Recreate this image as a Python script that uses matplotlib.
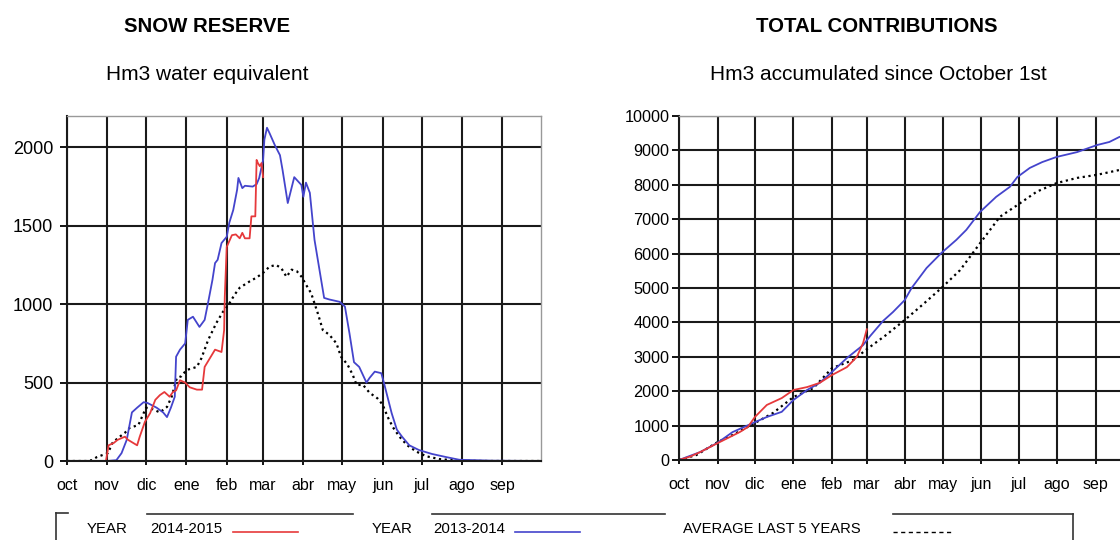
import matplotlib
matplotlib.use('Agg')
import matplotlib.pyplot as plt
from matplotlib.lines import Line2D

plt.rcParams['font.family'] = ['Liberation Sans', 'DejaVu Sans']

# month starts in days since October 1st
month_days = [0, 31, 61, 92, 123, 151, 182, 212, 243, 273, 304, 335]
month_labels = ['oct', 'nov', 'dic', 'ene', 'feb', 'mar', 'abr', 'may', 'jun', 'jul', 'ago', 'sep']

# snow reserve (Hm3 water equivalent)
snow_1415_day = [0, 30, 32, 36, 39, 44.6, 47, 51, 54, 56, 60, 64, 68, 71.5, 75, 79, 81.6, 84, 87, 91,
                 94.5, 100, 104, 106, 110, 114, 119, 121, 121.5, 123, 127, 130, 133, 135, 137, 140.6,
                 142, 145, 146, 147, 148.5, 149.8, 151]
snow_1415_val = [0, 0, 100, 115, 135, 155, 135, 115, 100, 155, 250, 305, 390, 420, 440, 410, 440, 450,
                 515, 500, 470, 455, 455, 600, 655, 710, 695, 835, 1047, 1365, 1440, 1445, 1420, 1455,
                 1420, 1420, 1560, 1560, 1920, 1900, 1880, 1900, 1810]

snow_1314_day = [0, 31, 38, 42, 46, 50, 54, 59, 62, 69, 74, 77, 80, 83, 84, 87, 91, 93, 97, 102, 106,
                 109, 112, 114, 116, 119, 123, 125, 128, 131, 132, 135, 137, 143, 146, 148, 151, 152,
                 154, 156, 160, 164, 166, 170, 175, 180.5, 182, 184, 187, 190.6, 194, 198, 202, 210,
                 214, 217.5, 221, 225, 230.6, 233, 237, 242, 244, 250, 254, 258, 263.6, 271, 281, 292,
                 302, 327, 365]
snow_1314_val = [0, 0, 5, 50, 135, 310, 340, 375, 370, 340, 310, 280, 340, 410, 665, 710, 750, 900, 920,
                 855, 900, 1025, 1155, 1262, 1283, 1390, 1430, 1520, 1600, 1730, 1805, 1740, 1755, 1750,
                 1765, 1805, 1920, 2050, 2125, 2090, 2015, 1950, 1855, 1645, 1810, 1760, 1685, 1775,
                 1710, 1410, 1240, 1040, 1030, 1015, 985, 815, 630, 600, 500, 530, 570, 560, 500, 305,
                 200, 155, 100, 70, 45, 25, 8, 2, 0]

snow_avg_day = [0, 15, 19, 23, 28, 31.5, 35, 39, 44.6, 48, 55, 59, 61, 66, 71.5, 77, 80.6, 84.6, 88, 92,
                100, 103.5, 108.6, 115, 120, 125, 129, 133, 140.6, 146, 151, 156, 161, 165, 169, 173,
                177, 180.6, 184, 188, 193, 197, 202, 207.5, 211, 216, 220, 223, 228, 233, 239, 243, 247,
                251, 256, 262, 269, 276.7, 287, 302, 320, 365]
snow_avg_val = [0, 0, 5, 25, 40, 50, 115, 145, 180, 210, 230, 305, 340, 330, 310, 345, 410, 530, 540, 580,
                600, 655, 770, 880, 950, 1005, 1060, 1105, 1145, 1170, 1200, 1240, 1250, 1230, 1175,
                1220, 1210, 1175, 1125, 1070, 945, 835, 805, 750, 665, 615, 550, 485, 485, 435, 400, 360,
                280, 215, 155, 100, 60, 30, 12, 2, 0, 0]

# total contributions (Hm3 accumulated since October 1st)
contrib_1415_day = [0, 9, 17, 31, 41, 49, 55.4, 61, 70.6, 82.6, 92, 103, 113, 123, 135, 143, 148, 151]
contrib_1415_val = [0, 100, 230, 490, 670, 815, 960, 1250, 1600, 1800, 2035, 2120, 2240, 2470, 2700,
                    3000, 3400, 3800]

contrib_1314_day = [0, 17, 31, 43, 61, 70.6, 82.6, 92, 103, 113, 123, 135, 148, 153.6, 164, 172, 181.5,
                    187, 199, 211, 223, 231, 242, 255, 266, 272, 282, 292, 303.6, 320, 336, 346, 354, 365]
contrib_1314_val = [0, 230, 500, 810, 1100, 1250, 1400, 1745, 2035, 2240, 2560, 2965, 3340, 3600, 4040,
                    4300, 4650, 5000, 5580, 6020, 6400, 6690, 7210, 7650, 7940, 8225, 8490, 8660, 8810,
                    8950, 9155, 9245, 9390, 9520]

contrib_avg_day = [0, 14, 31, 43, 61, 75.5, 92, 108, 123, 140, 151, 166, 181.5, 196, 211, 226, 242, 258,
                   272, 287.6, 303.6, 320, 336, 354, 365]
contrib_avg_val = [0, 145, 520, 725, 1075, 1365, 1830, 2090, 2670, 2905, 3220, 3620, 4070, 4520, 5000,
                   5520, 6300, 7070, 7410, 7800, 8050, 8200, 8290, 8430, 8500]

RED = '#e6393b'
BLUE = '#4444cc'
W, H = 1120, 540

fig = plt.figure(figsize=(W / 100, H / 100), dpi=100)


def fx(x):
    return x / W


def fy(y):
    return 1 - y / H


def style_axes(ax, ymax, ystep, ysize, ypad):
    ax.set_xlim(0, 365)
    ax.set_ylim(0, ymax)
    ax.set_xticks(month_days)
    ax.set_xticklabels(month_labels, fontsize=11.5)
    ax.set_yticks(range(0, ymax + 1, ystep) if ymax % ystep == 0 else range(0, ymax, ystep))
    ax.tick_params(axis='y', labelsize=ysize, length=5, width=1.3, pad=ypad)
    ax.tick_params(axis='x', length=3, width=1.3, pad=9)
    ax.grid(True, color='#1a1a1a', lw=1.5)
    ax.set_axisbelow(True)
    for s in ['left', 'bottom']:
        ax.spines[s].set_color('#1a1a1a')
        ax.spines[s].set_linewidth(1.5)
    for s in ['top', 'right']:
        ax.spines[s].set_color('#999999')
        ax.spines[s].set_linewidth(1.0)


# left chart: snow reserve
ax1 = fig.add_axes([fx(67), fy(461), 474 / W, 345 / H])
style_axes(ax1, 2200, 500, 13, 5)
ax1.plot(snow_avg_day, snow_avg_val, color='black', lw=1.6, ls=(0, (1, 1.6)))
ax1.plot(snow_1314_day, snow_1314_val, color=BLUE, lw=1.3)
ax1.plot(snow_1415_day, snow_1415_val, color=RED, lw=1.3)

# right chart: total contributions
ax2 = fig.add_axes([fx(679), fy(460), 454 / W, 344 / H])
style_axes(ax2, 10000, 1000, 11.7, 2)
ax2.plot(contrib_avg_day, contrib_avg_val, color='black', lw=1.6, ls=(0, (1, 1.6)))
ax2.plot(contrib_1314_day, contrib_1314_val, color=BLUE, lw=1.3)
ax2.plot(contrib_1415_day, contrib_1415_val, color=RED, lw=1.3)

# titles
fig.text(fx(207), fy(32), 'SNOW RESERVE', ha='center', va='baseline', fontsize=14.7, weight='bold')
fig.text(fx(207), fy(80), 'Hm3 water equivalent', ha='center', va='baseline', fontsize=15)
fig.text(fx(877), fy(32), 'TOTAL CONTRIBUTIONS', ha='center', va='baseline', fontsize=14.7, weight='bold')
fig.text(fx(878), fy(80), 'Hm3 accumulated since October 1st', ha='center', va='baseline', fontsize=15)

# legend strip
def seg(x0, y0, x1, y1, **kw):
    fig.add_artist(Line2D([fx(x0), fx(x1)], [fy(y0), fy(y1)], transform=fig.transFigure, **kw))

box = dict(color='#333333', lw=1.2)
seg(56, 513, 56, 540, **box)
seg(56, 513, 68, 513, **box)
seg(147, 514, 353, 514, **box)
seg(432, 514, 665, 514, **box)
seg(893, 514, 1073, 514, **box)
seg(1073, 514, 1073, 540, **box)

fig.text(fx(87), fy(533), 'YEAR', fontsize=10.8, va='baseline')
fig.text(fx(150), fy(533), '2014-2015', fontsize=10.8, va='baseline')
seg(233, 532, 298, 532, color=RED, lw=1.2)
fig.text(fx(372), fy(533), 'YEAR', fontsize=10.8, va='baseline')
fig.text(fx(433), fy(533), '2013-2014', fontsize=10.8, va='baseline')
seg(515, 532, 580, 532, color=BLUE, lw=1.2)
fig.text(fx(683), fy(533), 'AVERAGE LAST 5 YEARS', fontsize=10.6, va='baseline')
seg(893, 532, 952, 532, color='black', lw=1.0, ls=(0, (3, 2.5)))

fig.savefig('out.png', dpi=100)
